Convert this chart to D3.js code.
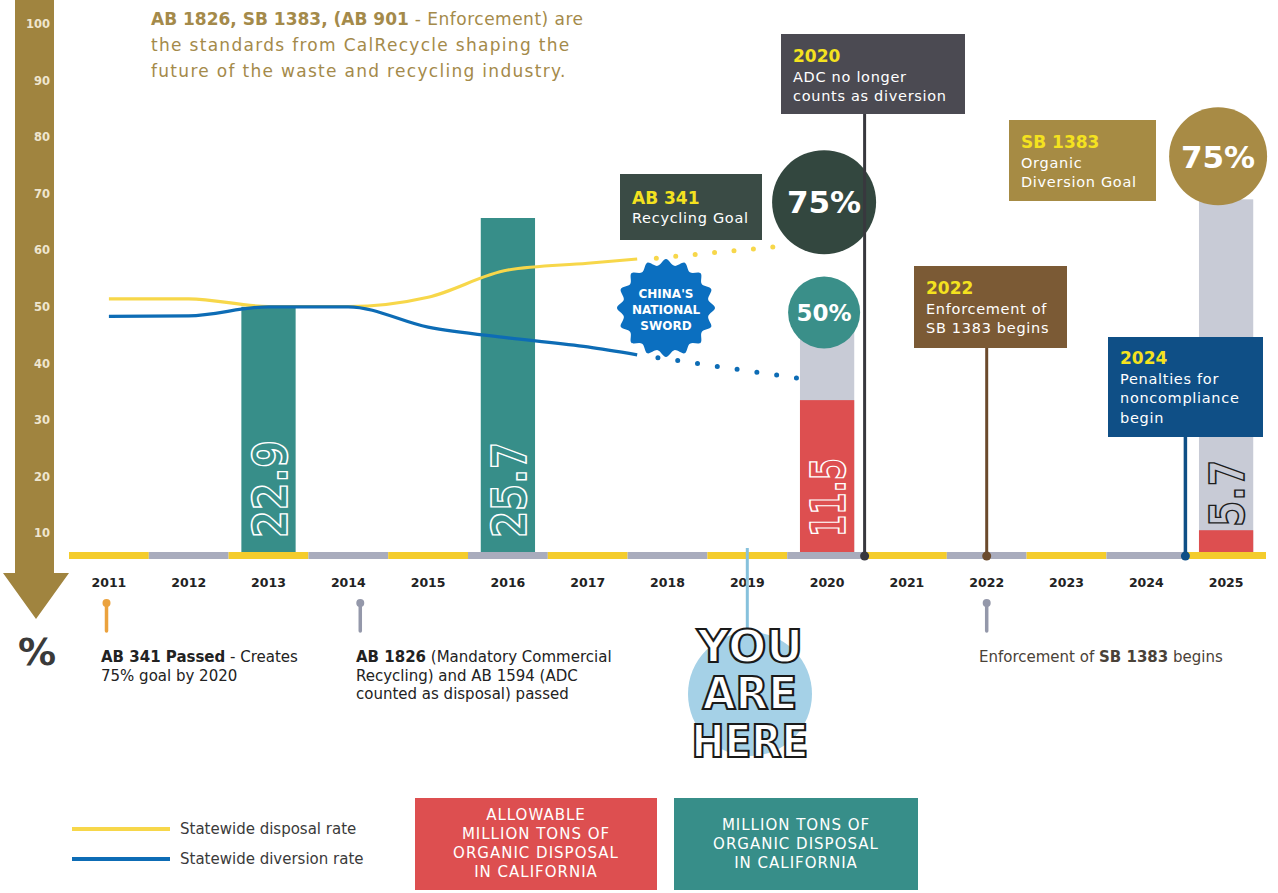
<!DOCTYPE html>
<html>
<head>
<meta charset="utf-8">
<script src="https://cdn.jsdelivr.net/npm/d3@7"></script>
<style>
  body { margin: 0; background: #fff; }
  svg { display: block; font-family: "DejaVu Sans", sans-serif; }
</style>
</head>
<body>
<svg id="chart" width="1278" height="893"></svg>
<script>
// --- data ---
var years = [2011, 2012, 2013, 2014, 2015, 2016, 2017, 2018, 2019, 2020, 2021, 2022, 2023, 2024, 2025];
var pctTicks = [10, 20, 30, 40, 50, 60, 70, 80, 90, 100];

var rateYears = [2011, 2012, 2013, 2014, 2015, 2016, 2017, 2017.62];
var disposalRate = [51.4, 51.4, 50.05, 50.05, 51.7, 56.5, 57.7, 58.45];
var diversionRate = [48.3, 48.4, 50.0, 50.0, 46.4, 44.5, 42.9, 41.5];

// dotted projections towards the goals
var disposalProjYears = [2017.86, 2019.35];
var disposalProj = [58.6, 60.6];
var diversionProjYears = [2017.88, 2019.62];
var diversionProj = [41.0, 37.4];

// million tons of organic disposal (bar heights in the % units of the picture)
var organicYears = [2013, 2016];
var organicTons = ["22.9", "25.7"];
var organicBarPct = [50, 65.7];

// allowable million tons of organic disposal
var allowYears = [2020, 2025];
var allowTons = ["11.5", "5.7"];
var allowBarPct = [33.5, 10.5];
var goalBarPct = [46, 69];

var svg = d3.select("#chart");

var x = d3.scaleBand().domain(years).range([69, 1266]);
var half = x.bandwidth() / 2;
var xl = d3.scaleLinear().domain([2011, 2025]).range([x(2011) + half, x(2025) + half]);
var y = d3.scaleLinear().domain([0, 100]).range([589.6, 24]);
var base = 552;
var barW = x.bandwidth() * 0.68;

var yellow = "#f7d74a", blue = "#0d6cb5", teal = "#378e89", red = "#dd4f50", grayBar = "#c8cbd6";

// --- intro text ---
var intro = svg.append("g").attr("fill", "#a48a4a").style("font-size", "17px");
var t1 = intro.append("text").attr("x", 151).attr("y", 25);
t1.append("tspan").attr("font-weight", "bold").text("AB 1826, SB 1383, (AB 901");
t1.append("tspan").style("letter-spacing", "0.5px").text(" - Enforcement) are");
intro.append("text").attr("x", 151).attr("y", 51).style("letter-spacing", "1.3px")
  .text("the standards from CalRecycle shaping the");
intro.append("text").attr("x", 151).attr("y", 77).style("letter-spacing", "1.3px")
  .text("future of the waste and recycling industry.");

// --- % arrow ---
svg.append("path")
  .attr("d", "M15,0 L54,0 L54,573 L69,573 L36,619 L3,573 L15,573 Z")
  .attr("fill", "#a0843f");

svg.append("g")
  .attr("transform", "translate(50,0)")
  .call(d3.axisLeft(y).tickValues(pctTicks).tickSize(0).tickPadding(0))
  .call(function (g) { g.select(".domain").remove(); })
  .selectAll("text")
    .attr("fill", "#efe6cf")
    .attr("font-family", "DejaVu Sans")
    .attr("font-weight", "bold")
    .style("font-size", "11.5px");

svg.append("text")
  .attr("x", 37).attr("y", 665)
  .attr("text-anchor", "middle")
  .attr("font-weight", "bold")
  .attr("fill", "#3a3a3a")
  .style("font-size", "38px")
  .text("%");

// --- bars ---
var organic = organicYears.map(function (d, i) { return {year: d, pct: organicBarPct[i], label: organicTons[i]}; });
svg.selectAll(".organic")
  .data(organic)
  .enter().append("rect")
    .attr("class", "organic")
    .attr("x", function (d) { return x(d.year) + half - barW / 2; })
    .attr("width", barW)
    .attr("y", function (d) { return y(d.pct); })
    .attr("height", function (d) { return base - y(d.pct); })
    .attr("fill", teal);

var allow = allowYears.map(function (d, i) { return {year: d, pct: allowBarPct[i], goal: goalBarPct[i], label: allowTons[i]}; });
svg.selectAll(".goal")
  .data(allow)
  .enter().append("rect")
    .attr("class", "goal")
    .attr("x", function (d) { return x(d.year) + half - barW / 2; })
    .attr("width", barW)
    .attr("y", function (d) { return y(d.goal); })
    .attr("height", function (d) { return base - y(d.goal); })
    .attr("fill", grayBar);

svg.selectAll(".allow")
  .data(allow)
  .enter().append("rect")
    .attr("class", "allow")
    .attr("x", function (d) { return x(d.year) + half - barW / 2; })
    .attr("width", barW)
    .attr("y", function (d) { return y(d.pct); })
    .attr("height", function (d) { return base - y(d.pct); })
    .attr("fill", red);

// rotated outline numbers on bars
function barLabel(d, bottom, len, fill, stroke) {
  svg.append("text")
    .attr("transform", "translate(" + (x(d.year) + half + 18) + "," + bottom + ") rotate(-90)")
    .attr("font-weight", "bold")
    .attr("fill", fill)
    .attr("stroke", stroke)
    .attr("stroke-width", 1.6)
    .attr("textLength", len)
    .attr("lengthAdjust", "spacingAndGlyphs")
    .style("font-size", "48px")
    .text(d.label);
}
barLabel(organic[0], 538, 98, teal, "#fff");
barLabel(organic[1], 538, 96, teal, "#fff");
barLabel(allow[0], 537, 79, red, "#fff");
barLabel(allow[1], 527, 67, grayBar, "#1d1d1d");

// --- timeline ---
svg.selectAll(".seg")
  .data(years)
  .enter().append("rect")
    .attr("class", "seg")
    .attr("x", function (d) { return x(d); })
    .attr("width", x.bandwidth())
    .attr("y", base)
    .attr("height", 7)
    .attr("fill", function (d, i) { return i % 2 ? "#a9acbd" : "#f4cc2c"; });

svg.append("g")
  .attr("transform", "translate(0,578)")
  .call(d3.axisBottom(x).tickSize(0).tickPadding(0))
  .call(function (g) { g.select(".domain").remove(); })
  .selectAll("text")
    .attr("fill", "#222")
    .attr("font-family", "DejaVu Sans")
    .attr("font-weight", "bold")
    .style("font-size", "12.5px");

// --- rate lines ---
var line = d3.line()
  .x(function (d) { return xl(d[0]); })
  .y(function (d) { return y(d[1]); })
  .curve(d3.curveMonotoneX);

svg.append("path")
  .datum(rateYears.map(function (d, i) { return [d, disposalRate[i]]; }))
  .attr("d", line).attr("fill", "none").attr("stroke", yellow).attr("stroke-width", 3.2);
svg.append("path")
  .datum(rateYears.map(function (d, i) { return [d, diversionRate[i]]; }))
  .attr("d", line).attr("fill", "none").attr("stroke", blue).attr("stroke-width", 3.2);

svg.append("path")
  .datum(disposalProjYears.map(function (d, i) { return [d, disposalProj[i]]; }))
  .attr("d", line).attr("fill", "none").attr("stroke", yellow).attr("stroke-width", 5)
  .attr("stroke-linecap", "round").attr("stroke-dasharray", "0 19.5");
svg.append("path")
  .datum(diversionProjYears.map(function (d, i) { return [d, diversionProj[i]]; }))
  .attr("d", line).attr("fill", "none").attr("stroke", blue).attr("stroke-width", 5)
  .attr("stroke-linecap", "round").attr("stroke-dasharray", "0 20");

// --- China's National Sword badge ---
var star = d3.range(32).map(function (i) { return [i * Math.PI / 16, i % 2 ? 43 : 49]; });
var badge = svg.append("g").attr("transform", "translate(666,308)");
badge.append("path")
  .attr("d", d3.lineRadial().curve(d3.curveCatmullRomClosed)(star))
  .attr("fill", "#0b6fc0");
badge.selectAll("text")
  .data(["CHINA'S", "NATIONAL", "SWORD"])
  .enter().append("text")
    .attr("y", function (d, i) { return -10 + i * 16; })
    .attr("text-anchor", "middle")
    .attr("font-weight", "bold")
    .attr("fill", "#fff")
    .style("font-size", "12px")
    .text(function (d) { return d; });

// --- goal circles ---
function goalCircle(cx, cy, r, fill, label, size) {
  svg.append("circle").attr("cx", cx).attr("cy", cy).attr("r", r).attr("fill", fill);
  svg.append("text")
    .attr("x", cx).attr("y", cy + size * 0.36)
    .attr("text-anchor", "middle")
    .attr("font-weight", "bold")
    .attr("fill", "#fff")
    .style("font-size", size + "px")
    .text(label);
}
goalCircle(xl(2020) - 3, y(68.5), 52, "#33473f", "75%", 31);
goalCircle(xl(2020) - 3, y(49), 36, "#3a8f89", "50%", 23);
goalCircle(xl(2025) - 8, y(76.6), 49, "#a88b45", "75%", 31);

// --- stems ---
function stem(xp, y0, color, w) {
  svg.append("line").attr("x1", xp).attr("x2", xp).attr("y1", y0).attr("y2", base + 4)
    .attr("stroke", color).attr("stroke-width", w);
  svg.append("circle").attr("cx", xp).attr("cy", base + 4).attr("r", 4.5).attr("fill", color);
}
stem(xl(2020.47), 114, "#38383e", 3);
stem(xl(2022), 348, "#6b4a2c", 3);
stem(xl(2024.49), 437, "#0f4f86", 3.5);

// --- boxes ---
function box(x0, y0, w, h, fill, head, lines, top, step) {
  svg.append("rect").attr("x", x0).attr("y", y0).attr("width", w).attr("height", h).attr("fill", fill);
  svg.append("text").attr("x", x0 + 12).attr("y", top)
    .attr("font-weight", "bold").attr("fill", "#f4e21f").style("font-size", "17px").text(head);
  lines.forEach(function (l, i) {
    svg.append("text").attr("x", x0 + 12).attr("y", top + step * (i + 1))
      .attr("fill", "#fff").style("font-size", "14.5px").style("letter-spacing", "0.7px").text(l);
  });
}
box(781, 34, 184, 80, "#4b4a52", "2020", ["ADC no longer", "counts as diversion"], 62, 19.5);
box(620, 174, 142, 66, "#3a4b45", "AB 341", ["Recycling Goal"], 204, 19);
box(1009, 120, 147, 81, "#a68b44", "SB 1383", ["Organic", "Diversion Goal"], 148, 19.5);
box(914, 266, 153, 82, "#7b5a35", "2022", ["Enforcement of", "SB 1383 begins"], 294, 19.5);
box(1108, 337, 155, 100, "#0f4f86", "2024", ["Penalties for", "noncompliance", "begin"], 364, 19.5);

// --- pins under the axis ---
function pin(xp, color) {
  svg.append("line").attr("x1", xp).attr("x2", xp).attr("y1", 602).attr("y2", 631)
    .attr("stroke", color).attr("stroke-width", 3.5).attr("stroke-linecap", "round");
  svg.append("circle").attr("cx", xp).attr("cy", 603).attr("r", 4).attr("fill", color);
}
pin(xl(2010.97), "#eba23d");
pin(xl(2014.15), "#9498aa");
pin(xl(2022), "#9498aa");

function note(x0, y0, parts, color) {
  parts.forEach(function (row, i) {
    var t = svg.append("text").attr("x", x0).attr("y", y0 + i * 18.5)
      .attr("fill", color).style("font-size", "15px");
    row.forEach(function (p) {
      t.append("tspan").attr("font-weight", p[1] ? "bold" : "normal").text(p[0]);
    });
  });
}
note(101, 662, [[["AB 341 Passed", 1], [" - Creates", 0]], [["75% goal by 2020", 0]]], "#222");
note(356, 662, [[["AB 1826", 1], [" (Mandatory Commercial", 0]],
               [["Recycling) and AB 1594 (ADC", 0]],
               [["counted as disposal) passed", 0]]], "#222");
note(979, 662, [[["Enforcement of ", 0], ["SB 1383", 1], [" begins", 0]]], "#4a4238");

// --- you are here ---
svg.append("line").attr("x1", xl(2019)).attr("x2", xl(2019)).attr("y1", 548).attr("y2", 640)
  .attr("stroke", "#86c1dc").attr("stroke-width", 3);
svg.append("circle").attr("cx", 750).attr("cy", 694).attr("r", 62).attr("fill", "#a5d1e7");
[["YOU", 662, 106], ["ARE", 709, 95], ["HERE", 757, 117]].forEach(function (w) {
  svg.append("text")
    .attr("x", 750).attr("y", w[1])
    .attr("text-anchor", "middle")
    .attr("font-family", "'Liberation Sans Narrow', 'DejaVu Sans Condensed', sans-serif")
    .attr("font-weight", "bold")
    .attr("fill", "#fff")
    .attr("stroke", "#1a1a1a")
    .attr("stroke-width", 2)
    .attr("textLength", w[2])
    .attr("lengthAdjust", "spacingAndGlyphs")
    .style("font-size", "44px")
    .text(w[0]);
});

// --- legend ---
var legend = [["Statewide disposal rate", yellow], ["Statewide diversion rate", blue]];
legend.forEach(function (l, i) {
  svg.append("line").attr("x1", 72).attr("x2", 170).attr("y1", 829 + i * 30).attr("y2", 829 + i * 30)
    .attr("stroke", l[1]).attr("stroke-width", 4);
  svg.append("text").attr("x", 180).attr("y", 834 + i * 30)
    .attr("fill", "#3a3a3a").style("font-size", "15px").text(l[0]);
});

function keyBox(x0, w, fill, lines, top) {
  svg.append("rect").attr("x", x0).attr("y", 798).attr("width", w).attr("height", 92).attr("fill", fill);
  lines.forEach(function (l, i) {
    svg.append("text").attr("x", x0 + w / 2).attr("y", top + i * 19)
      .attr("text-anchor", "middle").attr("fill", "#fff")
      .style("font-size", "15px").style("letter-spacing", "1px").text(l);
  });
}
keyBox(415, 242, red, ["ALLOWABLE", "MILLION TONS OF", "ORGANIC DISPOSAL", "IN CALIFORNIA"], 820);
keyBox(674, 244, teal, ["MILLION TONS OF", "ORGANIC DISPOSAL", "IN CALIFORNIA"], 830);
</script>
</body>
</html>
